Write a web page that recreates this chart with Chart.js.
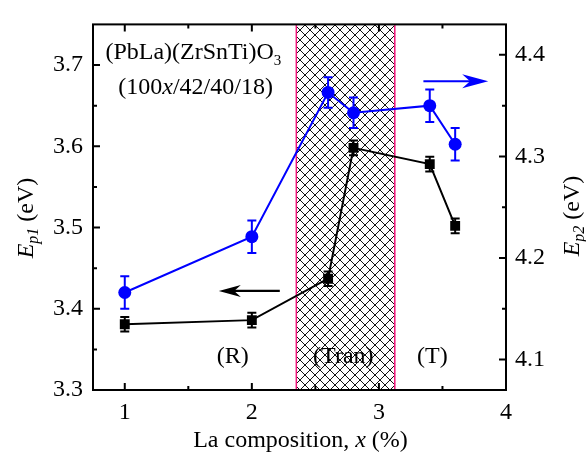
<!DOCTYPE html>
<html>
<head>
<meta charset="utf-8">
<script src="https://cdn.jsdelivr.net/npm/chart.js@4.4.0/dist/chart.umd.min.js"></script>
<style>
body{margin:0;background:#fff;}
#wrap{width:586px;height:453px;}
</style>
</head>
<body>
<div id="wrap"><canvas id="chart" width="586" height="453"></canvas></div>
<script>
// La composition x (%) and the two energies
const composition = [1, 2, 2.6, 2.8, 3.4, 3.6];
const ep1 = [3.381, 3.386, 3.437, 3.598, 3.578, 3.502];
const ep1Err = [0.009, 0.009, 0.009, 0.009, 0.009, 0.009];
const ep2 = [4.166, 4.221, 4.363, 4.343, 4.350, 4.312];
const ep2Err = [0.016, 0.016, 0.015, 0.015, 0.016, 0.016];

const xTicks = [1, 2, 3, 4];
const xMinor = [1.5, 2.5, 3.5];
const ep1Ticks = [3.3, 3.4, 3.5, 3.6, 3.7];
const ep1Minor = [3.35, 3.45, 3.55, 3.65];
const ep2Ticks = [4.1, 4.2, 4.3, 4.4];
const ep2Minor = [4.15, 4.25, 4.35];

const tranRegion = [2.35, 3.125];
const phaseLabels = ['(R)', '(Tran)', '(T)'];

const serif = "'Liberation Serif', 'Times New Roman', serif";
const pink = '#f0157a';
const blue = '#0000ff';

Chart.defaults.font.family = serif;
Chart.defaults.font.size = 24;
Chart.defaults.color = '#000';

const ctx = document.getElementById('chart').getContext('2d');

function makeHatch() {
    const c = document.createElement('canvas');
    c.width = 10; c.height = 10;
    const g = c.getContext('2d');
    g.strokeStyle = '#111';
    g.lineWidth = 1;
    g.beginPath();
    g.moveTo(-2, -2); g.lineTo(12, 12);
    g.moveTo(12, -2); g.lineTo(-2, 12);
    g.stroke();
    return ctx.createPattern(c, 'repeat');
}

// draw text made of several runs (italic / subscript)
function drawRuns(c, runs, x, y, align) {
    let total = 0;
    runs.forEach(r => {
        c.font = (r.italic ? 'italic ' : '') + (r.size || 24) + 'px ' + serif;
        r.w = c.measureText(r.t).width;
        total += r.w;
    });
    let cx = align === 'center' ? x - total / 2 : x;
    c.textBaseline = 'alphabetic';
    c.textAlign = 'left';
    runs.forEach(r => {
        c.font = (r.italic ? 'italic ' : '') + (r.size || 24) + 'px ' + serif;
        c.fillText(r.t, cx, y + (r.dy || 0));
        cx += r.w;
    });
}

function arrow(c, x1, y1, x2, y2, len, half) {
    const d = Math.sign(x2 - x1);
    c.beginPath();
    c.moveTo(x1, y1);
    c.lineTo(x2 - d * len * 0.6, y2);
    c.stroke();
    c.beginPath();
    c.moveTo(x2, y2);
    c.lineTo(x2 - d * len, y2 - half);
    c.lineTo(x2 - d * len * 0.7, y2);
    c.lineTo(x2 - d * len, y2 + half);
    c.closePath();
    c.fill();
}

const decorations = {
    id: 'decorations',
    beforeDatasetsDraw(chart) {
        const c = chart.ctx, a = chart.chartArea;
        const sx = chart.scales.x, s1 = chart.scales.y, s2 = chart.scales.y2;
        const l = sx.getPixelForValue(tranRegion[0]), r = sx.getPixelForValue(tranRegion[1]);
        c.save();
        c.fillStyle = makeHatch();
        c.fillRect(l, a.top, r - l, a.bottom - a.top);
        c.strokeStyle = pink;
        c.lineWidth = 1.5;
        c.beginPath();
        c.moveTo(l, a.top); c.lineTo(l, a.bottom);
        c.moveTo(r, a.top); c.lineTo(r, a.bottom);
        c.stroke();

        // error bars
        c.lineWidth = 2;
        [[ep1, ep1Err, s1, '#000'], [ep2, ep2Err, s2, blue]].forEach(([vals, errs, sc, col]) => {
            c.strokeStyle = col;
            c.beginPath();
            composition.forEach((x, i) => {
                const px = sx.getPixelForValue(x);
                const t = sc.getPixelForValue(vals[i] + errs[i]);
                const b = sc.getPixelForValue(vals[i] - errs[i]);
                c.moveTo(px, t); c.lineTo(px, b);
                c.moveTo(px - 4.5, t); c.lineTo(px + 4.5, t);
                c.moveTo(px - 4.5, b); c.lineTo(px + 4.5, b);
            });
            c.stroke();
        });
        c.restore();
    },
    afterDatasetsDraw(chart) {
        const c = chart.ctx;
        const sx = chart.scales.x, s1 = chart.scales.y, s2 = chart.scales.y2;
        c.save();
        c.fillStyle = '#000';

        // composition text
        drawRuns(c, [{t: '(PbLa)(ZrSnTi)O'}, {t: '3', size: 15, dy: 6}],
            sx.getPixelForValue(1.54), s1.getPixelForValue(3.708), 'center');
        drawRuns(c, [{t: '(100'}, {t: 'x', italic: true}, {t: '/42/40/18)'}],
            sx.getPixelForValue(1.557), s1.getPixelForValue(3.664), 'center');

        // phase labels
        [1.85, 2.72, 3.42].forEach((x, i) => {
            drawRuns(c, [{t: phaseLabels[i]}], sx.getPixelForValue(x), s1.getPixelForValue(3.333), 'center');
        });

        // arrows
        c.lineWidth = 2.2;
        c.strokeStyle = '#000'; c.fillStyle = '#000';
        arrow(c, sx.getPixelForValue(2.22), s1.getPixelForValue(3.422),
            sx.getPixelForValue(1.74), s1.getPixelForValue(3.422), 22, 6);
        c.strokeStyle = blue; c.fillStyle = blue;
        arrow(c, sx.getPixelForValue(3.35), s2.getPixelForValue(4.374),
            sx.getPixelForValue(3.86), s2.getPixelForValue(4.374), 26, 7);
        c.restore();
    },
    afterDraw(chart) {
        const c = chart.ctx, a = chart.chartArea;
        const sx = chart.scales.x, s1 = chart.scales.y, s2 = chart.scales.y2;
        c.save();
        c.strokeStyle = '#000';
        c.lineWidth = 2;
        c.strokeRect(a.left, a.top, a.right - a.left, a.bottom - a.top);

        // inward ticks
        c.beginPath();
        const xt = (v, len) => {
            const p = sx.getPixelForValue(v);
            c.moveTo(p, a.bottom); c.lineTo(p, a.bottom - len);
            c.moveTo(p, a.top); c.lineTo(p, a.top + len);
        };
        xTicks.forEach(v => xt(v, 7));
        xMinor.forEach(v => xt(v, 4));
        const lt = (v, len) => {
            const p = s1.getPixelForValue(v);
            c.moveTo(a.left, p); c.lineTo(a.left + len, p);
        };
        ep1Ticks.forEach(v => lt(v, 7));
        ep1Minor.forEach(v => lt(v, 4));
        const rt = (v, len) => {
            const p = s2.getPixelForValue(v);
            c.moveTo(a.right, p); c.lineTo(a.right - len, p);
        };
        ep2Ticks.forEach(v => rt(v, 7));
        ep2Minor.forEach(v => rt(v, 4));
        c.stroke();

        // axis titles
        c.fillStyle = '#000';
        drawRuns(c, [{t: 'La composition, '}, {t: 'x', italic: true}, {t: ' (%)'}],
            (a.left + a.right) / 2 + 1, 447, 'center');
        c.save();
        c.translate(33, 218);
        c.rotate(-Math.PI / 2);
        drawRuns(c, [{t: 'E', italic: true}, {t: 'p1', italic: true, size: 16, dy: 5}, {t: ' (eV)'}], 0, 0, 'center');
        c.restore();
        c.save();
        c.translate(579, 216);
        c.rotate(-Math.PI / 2);
        drawRuns(c, [{t: 'E', italic: true}, {t: 'p2', italic: true, size: 16, dy: 5}, {t: ' (eV)'}], 0, 0, 'center');
        c.restore();
        c.restore();
    }
};

new Chart(ctx, {
    type: 'line',
    data: {
        datasets: [
            {
                label: 'Ep1',
                data: composition.map((x, i) => ({x: x, y: ep1[i]})),
                yAxisID: 'y',
                borderColor: '#000',
                backgroundColor: '#000',
                borderWidth: 2,
                pointStyle: 'rect',
                pointRadius: 7,
                pointBorderWidth: 0,
                tension: 0
            },
            {
                label: 'Ep2',
                data: composition.map((x, i) => ({x: x, y: ep2[i]})),
                yAxisID: 'y2',
                borderColor: blue,
                backgroundColor: blue,
                borderWidth: 2,
                pointStyle: 'circle',
                pointRadius: 6.5,
                pointBorderWidth: 0,
                tension: 0
            }
        ]
    },
    options: {
        responsive: false,
        animation: false,
        layout: {padding: {top: 14, left: 0, right: 0, bottom: 0}},
        plugins: {
            legend: {display: false},
            tooltip: {enabled: false}
        },
        scales: {
            x: {
                type: 'linear',
                position: 'bottom',
                min: 0.75,
                max: 4,
                grid: {display: false, drawTicks: false},
                border: {display: false},
                ticks: {padding: 8, maxRotation: 0, callback: v => String(v)},
                afterBuildTicks: s => { s.ticks = xTicks.map(v => ({value: v})); },
                afterFit: s => { s.height = 63; }
            },
            y: {
                type: 'linear',
                position: 'left',
                min: 3.3,
                max: 3.75,
                grid: {display: false, drawTicks: false},
                border: {display: false},
                ticks: {padding: 10, callback: v => v.toFixed(1)},
                afterBuildTicks: s => { s.ticks = ep1Ticks.map(v => ({value: v})); },
                afterFit: s => { s.width = 93; }
            },
            y2: {
                type: 'linear',
                position: 'right',
                min: 4.07,
                max: 4.43,
                grid: {display: false, drawTicks: false},
                border: {display: false},
                ticks: {padding: 9, callback: v => v.toFixed(1)},
                afterBuildTicks: s => { s.ticks = ep2Ticks.map(v => ({value: v})); },
                afterFit: s => { s.width = 80; }
            }
        }
    },
    plugins: [decorations]
});
</script>
</body>
</html>
